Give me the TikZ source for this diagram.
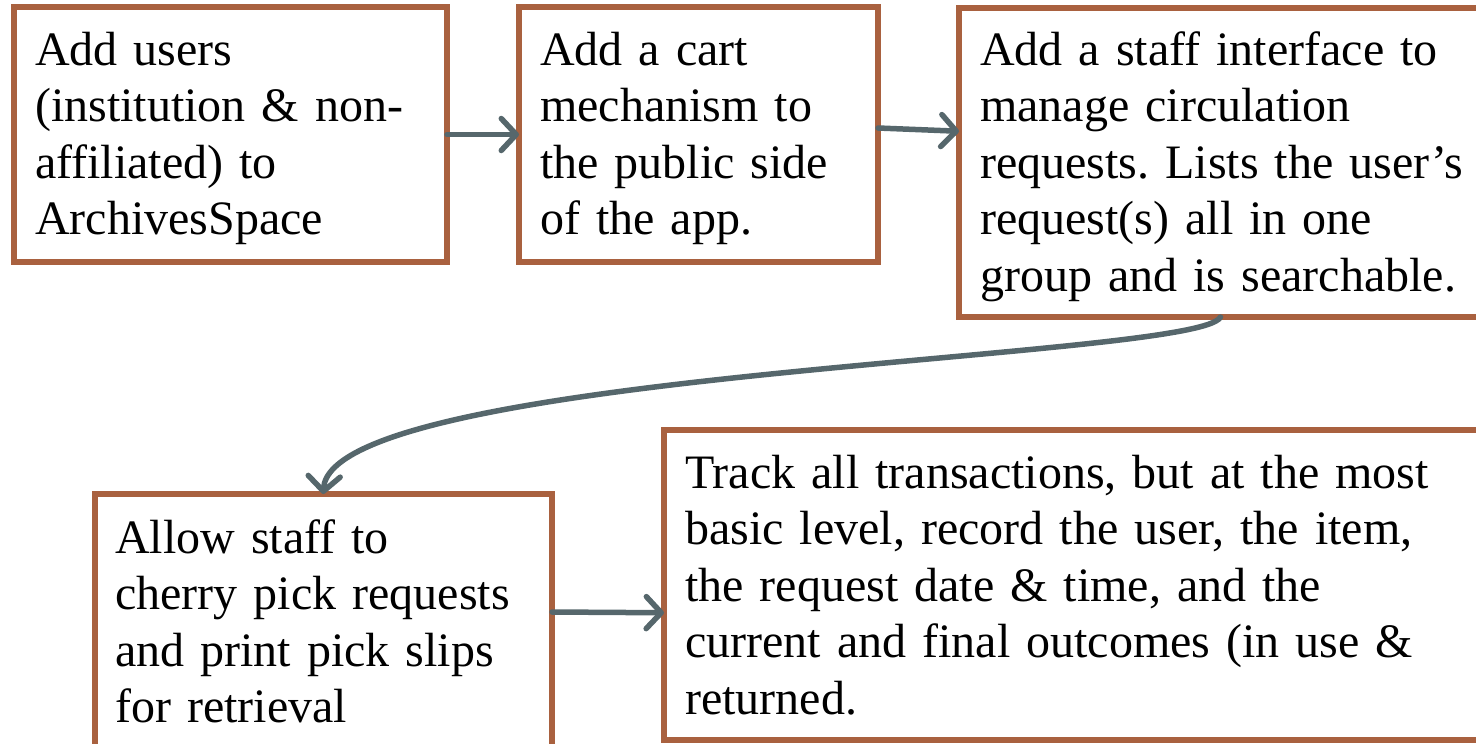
\documentclass[tikz,border=0pt]{standalone}
\usepackage{fontspec}
\setmainfont{Liberation Serif}
\usetikzlibrary{arrows.meta}
\definecolor{boxc}{HTML}{A9613F}
\definecolor{arrc}{HTML}{56676C}
\frenchspacing
\tikzset{
  box/.style={draw=boxc, line width=6pt, fill=white, rectangle, outer sep=0pt, inner sep=0pt, anchor=north west},
  txt/.style={anchor=base west, inner sep=0pt, align=left, text width=1000pt, font=\fontsize{48}{56.5}\selectfont},
  arr/.style={draw=arrc, line width=5.5pt, line cap=round, line join=round, -{Straight Barb[length=15pt,width=32pt,round]}}
}
\begin{document}
\begin{tikzpicture}[x=1pt,y=-1pt]
\useasboundingbox (0,0) rectangle (1476,744);
\clip (0,0) rectangle (1476,744);
\node[box, minimum width=433.5pt, minimum height=255pt] (b1) at (13.5,7) {};
\node[box, minimum width=359pt, minimum height=255pt] (b2) at (519,7) {};
\node[box, minimum width=523pt, minimum height=309.5pt] (b3) at (959,7.5) {};
\node[box, minimum width=457.5pt, minimum height=266pt] (b4) at (94.5,494) {};
\node[box, minimum width=830pt, minimum height=310.5pt] (b5) at (664,429.5) {};
\node[txt] (t1) at (35,65) {Add users\\(institution \& non-\\affiliated) to\\ArchivesSpace};
\node[txt] (t2) at (540,65) {Add a cart\\mechanism to\\the public side\\of the app.};
\node[txt] (t3) at (980,65) {Add a staff interface to\\manage circulation\\requests. Lists the user’s\\request(s) all in one\\group and is searchable.};
\node[txt] (t4) at (115,553) {Allow staff to\\cherry pick requests\\and print pick slips\\for retrieval};
\node[txt] (t5) at (685,488) {Track all transactions, but at the most\\basic level, record the user, the item,\\the request date \& time, and the\\current and final outcomes (in use \&};
\node[txt] (t5b) at (685,714) {returned.};
\draw[arr] (b1.east) -- (b2.west);
\draw[arr] ([yshift=6.5pt]b2.east) -- ([yshift=31pt]b3.west);
\draw[arr] (b3.south) .. controls (1200,360) and (330,370) .. (b4.north);
\draw[arr] ([yshift=15pt]b4.east) -- ([yshift=-28pt]b5.west);
\end{tikzpicture}
\end{document}
